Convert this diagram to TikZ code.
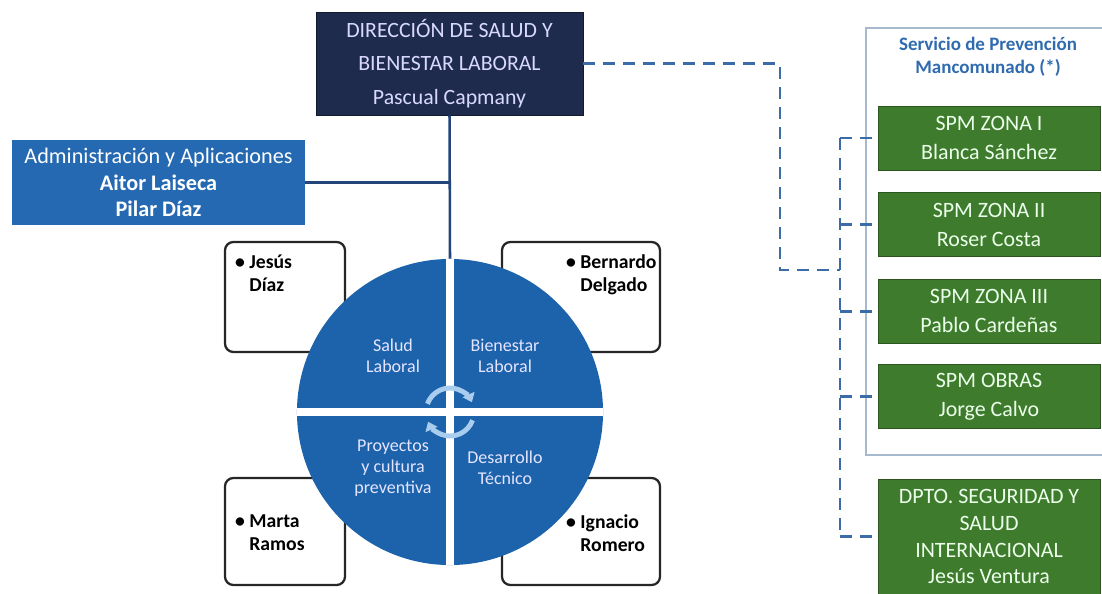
\documentclass[tikz,border=0pt]{standalone}
\usepackage{fontspec}
\setmainfont{Carlito}
\usepackage{xcolor}
\usepackage{tikz}
\usetikzlibrary{arrows.meta, positioning}

\definecolor{navy}{HTML}{1E2B4C}
\definecolor{adminblue}{HTML}{2469B2}
\definecolor{wheelblue}{HTML}{1D63AC}
\definecolor{spmgreen}{HTML}{3E7B2C}
\definecolor{dashblue}{HTML}{3C6CA8}
\definecolor{linkblue}{HTML}{24457A}
\definecolor{titleblue}{HTML}{2F6BAE}
\definecolor{framegray}{HTML}{A7B9CC}
\definecolor{cycleblue}{HTML}{A8CDEE}

\begin{document}
\begin{tikzpicture}[
  x=0.025cm, y=-0.025cm,
  dirbox/.style={rectangle, fill=navy, draw=navy!60!black, minimum width=6.675cm, minimum height=2.575cm, align=center, text=white!85!blue, font=\fontsize{15.5}{23.8}\selectfont},
  adminbox/.style={rectangle, fill=adminblue, minimum width=7.325cm, minimum height=2.125cm, align=center, text=white, font=\fontsize{15.8}{18.8}\selectfont},
  namebox/.style={rectangle, draw=black!85, line width=1.6pt, rounded corners=6pt, fill=white},
  nametext/.style={anchor=north west, align=left, inner sep=0pt, font=\fontsize{14}{16.3}\selectfont\bfseries},
  quarter/.style={align=center, text=white!90!blue, font=\fontsize{12.8}{15}\selectfont},
  zonebox/.style={rectangle, fill=spmgreen, draw=spmgreen!70!black, minimum width=5.55cm, minimum height=1.6cm, align=center, text=white!92!green, font=\fontsize{15.6}{20.6}\selectfont},
  link/.style={linkblue, line width=1.8pt},
  dashlink/.style={dashblue, line width=2pt, dash pattern=on 0.3cm off 0.2cm},
  cycle/.style={cycleblue, line width=3.5pt, -{Triangle[length=6pt,width=9pt]}}
]
\useasboundingbox (0,0) rectangle (1102,593);

% Direction and support unit
\node[dirbox] (dir) at (449.5,63.5) {DIRECCIÓN DE SALUD Y\\BIENESTAR LABORAL\\Pascual Capmany};
\node[adminbox] (admin) at (158.5,182.5) {Administración y Aplicaciones\\\textbf{Aitor Laiseca}\\\textbf{Pilar Díaz}};

% Person boxes behind the wheel
\node[namebox, minimum width=3cm, minimum height=2.75cm] (tlbox) at (285,297) {};
\node[namebox, minimum width=3.95cm, minimum height=2.75cm] (trbox) at (581,297) {};
\node[namebox, minimum width=3cm, minimum height=2.675cm] (blbox) at (285,531.5) {};
\node[namebox, minimum width=3.95cm, minimum height=2.675cm] (brbox) at (581,531.5) {};
\node[nametext] (jesus) at ([shift={(0.275cm,-0.35cm)}]tlbox.north west) {\textbullet\ Jesús\\\hphantom{\textbullet\ }Díaz};
\node[nametext] (bernardo) at ([shift={(1.625cm,-0.33cm)}]trbox.north west) {\textbullet\ Bernardo\\\hphantom{\textbullet\ }Delgado};
\node[nametext] (marta) at ([shift={(0.275cm,-0.95cm)}]blbox.north west) {\textbullet\ Marta\\\hphantom{\textbullet\ }Ramos};
\node[nametext] (ignacio) at ([shift={(1.625cm,-0.95cm)}]brbox.north west) {\textbullet\ Ignacio\\\hphantom{\textbullet\ }Romero};

% Wheel
\node[circle, fill=wheelblue, minimum size=7.65cm, inner sep=0pt] (wheel) at (450,412) {};
\draw[white, line width=0.2cm] (wheel.north) -- (wheel.south);
\draw[white, line width=0.2cm] (wheel.west) -- (wheel.east);
\node[quarter] (salud) at (393,356) {Salud\\Laboral};
\node[quarter] (bienestar) at (505,356) {Bienestar\\Laboral};
\node[quarter] (proyectos) at (393,468) {Proyectos\\y cultura\\preventiva};
\node[quarter] (desarrollo) at (505,468) {Desarrollo\\Técnico};
\draw[cycle] ([shift={(160:0.6cm)}]wheel.center) arc[start angle=160, end angle=24, radius=0.6cm];
\draw[cycle] ([shift={(-20:0.6cm)}]wheel.center) arc[start angle=-20, end angle=-156, radius=0.6cm];

% Solid links
\draw[link] (dir.south) -- (wheel.north);
\draw[link] (admin.east) -- (admin.east -| dir.south);

% Servicio de Prevención Mancomunado
\node[rectangle, draw=framegray, line width=1pt, fill=white, minimum width=6.1cm, minimum height=10.675cm] (spmframe) at (988,241.5) {};
\node[align=center, text=titleblue, font=\fontsize{13.5}{16.3}\selectfont\bfseries] (spmtitle) at (988,57) {Servicio de Prevención\\Mancomunado (*)};
\node[zonebox] (zone1) at (989,138) {SPM ZONA I\\Blanca Sánchez};
\node[zonebox, below=0.55cm of zone1] (zone2) {SPM ZONA II\\Roser Costa};
\node[zonebox, below=0.55cm of zone2] (zone3) {SPM ZONA III\\Pablo Cardeñas};
\node[zonebox, below=0.525cm of zone3] (obras) {SPM OBRAS\\Jorge Calvo};
\node[zonebox, below=1.25cm of obras, minimum height=2.875cm, font=\fontsize{15.6}{19}\selectfont] (dpto) {DPTO. SEGURIDAD Y\\SALUD\\INTERNACIONAL\\Jesús Ventura};

% Dashed links
\coordinate (elbow) at (780,270);
\coordinate (spine) at (840,270);
\draw[dashlink] (dir.east) -| (elbow) -- (spine);
\draw[dashlink] (zone1.west -| spine) -- (dpto.west -| spine);
\foreach \b in {zone1,zone2,zone3,obras,dpto}
  \draw[dashlink] (\b.west -| spine) -- (\b.west);

\end{tikzpicture}
\end{document}
